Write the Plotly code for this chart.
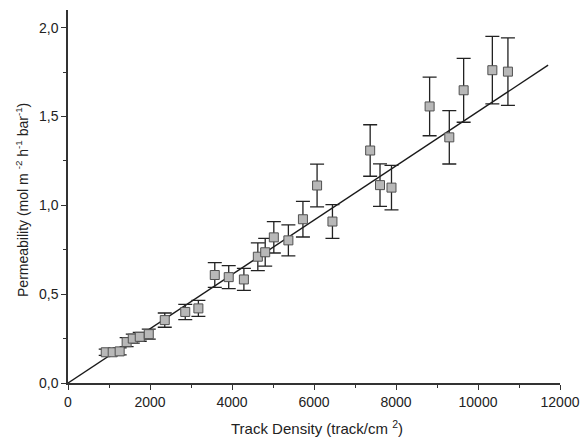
import plotly.graph_objects as go

# Data
track_density = [920, 1090, 1260, 1430, 1580, 1750, 1970, 2360, 2860, 3180,
                 3580, 3920, 4290, 4630, 4810, 5020, 5375, 5730, 6075, 6450,
                 7370, 7610, 7890, 8820, 9300, 9650, 10350, 10730]
permeability = [0.173, 0.173, 0.178, 0.23, 0.25, 0.26, 0.275, 0.354, 0.40, 0.42,
                0.608, 0.596, 0.583, 0.711, 0.736, 0.82, 0.803, 0.922, 1.112, 0.909,
                1.309, 1.114, 1.10, 1.557, 1.383, 1.648, 1.761, 1.753]
error = [0.018, 0.018, 0.02, 0.025, 0.025, 0.025, 0.028, 0.04, 0.043, 0.045,
         0.07, 0.065, 0.062, 0.078, 0.078, 0.088, 0.087, 0.10, 0.12, 0.095,
         0.145, 0.12, 0.125, 0.165, 0.15, 0.18, 0.19, 0.19]

fit_slope = 1.528e-4
fit_x = [0, 11710]
fit_y = [fit_slope * v for v in fit_x]

x_ticks = [0, 2000, 4000, 6000, 8000, 10000, 12000]
y_ticks = [0.0, 0.5, 1.0, 1.5, 2.0]

x_title = "Track Density (track/cm <sup>2</sup>)"
y_title = "Permeability (mol m <sup>-2</sup> h<sup>-1</sup> bar<sup>-1</sup>)"

FONT = "Liberation Sans, Arial, sans-serif"
TXT = "#222222"
AX = "#333333"

fig = go.Figure()
fig.add_trace(go.Scatter(
    x=fit_x, y=fit_y, mode="lines",
    line=dict(color="#1a1a1a", width=1.4),
    showlegend=False, hoverinfo="skip"))
fig.add_trace(go.Scatter(
    x=track_density, y=permeability, mode="markers",
    marker=dict(symbol="square", size=9, color="#b8b8b8",
                line=dict(color="#505050", width=1)),
    error_y=dict(type="data", array=error, visible=True,
                 color="#222222", thickness=1.3, width=7),
    showlegend=False))

fig.update_layout(
    width=581, height=439,
    margin=dict(l=68, r=21, t=10, b=56, autoexpand=False),
    paper_bgcolor="white", plot_bgcolor="white",
    separators=",.",
    font=dict(family=FONT, size=14, color=TXT),
    xaxis=dict(
        range=[0, 12000], tickvals=x_ticks, tickformat="d",
        automargin=False,
        showgrid=False, zeroline=False,
        showline=True, linecolor=AX, linewidth=1.5,
        ticks="outside", ticklen=5, tickwidth=1.3, tickcolor=AX,
        tickfont=dict(family=FONT, size=14, color=TXT),
        minor=dict(dtick=1000, ticks="outside", ticklen=3, tickwidth=1, tickcolor=AX),
    ),
    yaxis=dict(
        range=[0, 2.1], tickvals=y_ticks, tickformat=".1f",
        automargin=False,
        showgrid=False, zeroline=False,
        showline=True, linecolor=AX, linewidth=1.5,
        ticks="outside", ticklen=5, tickwidth=1.3, tickcolor=AX,
        tickfont=dict(family=FONT, size=14, color=TXT),
        minor=dict(dtick=0.25, ticks="outside", ticklen=3, tickwidth=1, tickcolor=AX),
    ),
    annotations=[
        dict(text=x_title, xref="paper", yref="paper", x=0.507, y=-0.119,
             xanchor="center", yanchor="middle", showarrow=False,
             font=dict(family=FONT, size=15, color=TXT)),
        dict(text=y_title, xref="paper", yref="paper", x=-0.092, y=0.49,
             xanchor="center", yanchor="middle", textangle=-90, showarrow=False,
             font=dict(family=FONT, size=14, color=TXT)),
    ],
)

fig.write_html("out.html",
               config={"displayModeBar": False},
               post_script="document.body.style.margin='0';document.body.style.overflow='hidden';")
